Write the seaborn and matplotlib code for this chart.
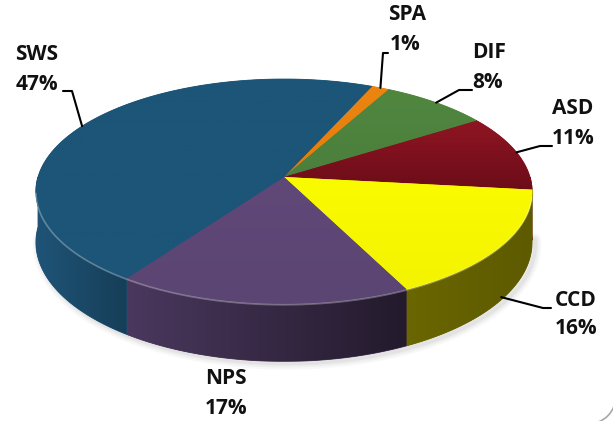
import numpy as np
import matplotlib
matplotlib.use('Agg')
import matplotlib.pyplot as plt
import seaborn as sns
from matplotlib.patches import Polygon, Arc
from matplotlib.colors import to_rgb

# datos del gráfico (orden horario desde arriba)
categories = ['SPA', 'DIF', 'ASD', 'CCD', 'NPS', 'SWS']
shares = [1.3, 8, 11, 16, 17, 47]
pct_labels = ['1%', '8%', '11%', '16%', '17%', '47%']

# colores cara superior (inicio, fin del degradado vertical) y lateral (izq, der)
top_colors = [('#ec8410', '#e47e0c'), ('#50873f', '#4b7f3d'), ('#8f1523', '#6c0c18'),
              ('#fafa00', '#f4f400'), ('#604878', '#5b4572'), ('#1c5577', '#1c5577')]
side_colors = [('#b86608', '#a85c06'), ('#3b6630', '#355b2b'), ('#5e0a12', '#4e0810'),
               ('#6a6600', '#5d5a00'), ('#4a385e', '#231a2c'), ('#1f5477', '#163e58')]

# posiciones de etiquetas: (texto nombre, texto %, codo de la guía, fin de la guía)
label_layout = {
    'SPA': ((407, 15), (405, 45), (383, 53), (388, 53)),
    'DIF': ((489, 52), (488, 82), (459, 90), (472, 90)),
    'ASD': ((573, 108), (573, 138), (540, 146), (552, 146)),
    'CCD': ((576, 300), (576, 329), (543, 308), (551, 308)),
    'NPS': ((226, 378), (226, 408), None, None),
    'SWS': ((37, 55), (37, 85), (72, 91), (63, 91)),
}

# geometría del pastel 3D (perspectiva)
CX, CY = 284, 177
A, B, K, H = 246, 110.6, 0.129, 50
START = 23.6


def proj(theta, depth=0.0):
    t = np.radians(theta)
    X, Y = np.sin(t), -np.cos(t)
    d = 1 - K * Y
    return CX + A * X / d, CY + B * Y / d + H * depth / d


def grad_fill(ax, verts, c1, c2, vertical=True, z=2):
    verts = np.asarray(verts)
    poly = Polygon(verts, closed=True, facecolor=c1, edgecolor=c1, lw=0.6, zorder=z)
    ax.add_patch(poly)
    n = 256
    t = np.linspace(0, 1, n)
    c1, c2 = np.array(to_rgb(c1)), np.array(to_rgb(c2))
    g = c1[None, :] * (1 - t[:, None]) + c2[None, :] * t[:, None]
    img = g[:, None, :] if vertical else g[None, :, :]
    x0, y0 = verts.min(axis=0)
    x1, y1 = verts.max(axis=0)
    im = ax.imshow(img, extent=(x0, x1, y1, y0), origin='upper', aspect='auto',
                   interpolation='bilinear', zorder=z + 0.1)
    im.set_clip_path(poly)


sns.set_theme(style='white')
plt.rcParams['font.family'] = ['Open Sans', 'DejaVu Sans']

fig = plt.figure(figsize=(6.13, 4.21), dpi=100)
ax = fig.add_axes([0, 0, 1, 1])
ax.set_xlim(0, 613)
ax.set_ylim(421, 0)
ax.axis('off')

bounds = np.cumsum([0] + shares) / sum(shares) * 360 + START

# sombra suave
th = np.linspace(95, 265, 200)
sx, sy = proj(th, 1.0)
for w, a in [(9, 0.05), (6, 0.07), (3, 0.1)]:
    ax.plot(sx + 3, sy + 2, color='#808080', lw=w, alpha=a, zorder=0.5,
            solid_capstyle='round')

# paredes laterales visibles
for i, cat in enumerate(categories):
    lo, hi = max(bounds[i], 90), min(bounds[i + 1], 270)
    if hi <= lo:
        continue
    th = np.linspace(lo, hi, 120)
    tx, ty = proj(th, 0)
    bx, by = proj(th, 1.0)
    verts = np.column_stack([np.r_[tx, bx[::-1]], np.r_[ty, by[::-1]]])
    grad_fill(ax, verts, side_colors[i][0], side_colors[i][1], vertical=False, z=1)

# caras superiores
for i, cat in enumerate(categories):
    th = np.linspace(bounds[i], bounds[i + 1], 200)
    rx, ry = proj(th, 0)
    verts = np.column_stack([np.r_[CX, rx], np.r_[CY, ry]])
    grad_fill(ax, verts, top_colors[i][0], top_colors[i][1], vertical=True, z=3)

# brillo del borde frontal
th = np.linspace(100, 262, 200)
hx, hy = proj(th, 0)
ax.plot(hx, hy + 0.8, color='white', lw=1.2, alpha=0.3, zorder=4)

# etiquetas y líneas guía
for i, cat in enumerate(categories):
    name_pos, pct_pos, elbow, end = label_layout[cat]
    mid = (bounds[i] + bounds[i + 1]) / 2
    if elbow is not None:
        depth = 0.95 if cat == 'CCD' else 0.0
        axx, ayy = proj(mid, depth)
        ax.plot([axx, elbow[0], end[0]], [ayy, elbow[1], end[1]],
                color='black', lw=1.5, zorder=5)
    ax.text(*name_pos, cat, ha='center', va='center', fontsize=15,
            fontweight='bold', color='#111111', zorder=6)
    ax.text(*pct_pos, pct_labels[i], ha='center', va='center', fontsize=15,
            fontweight='bold', color='#111111', zorder=6)

# esquina del marco
ax.add_patch(Arc((588, 396), 56, 56, theta1=0, theta2=90, color='#a8a8a8', lw=1.2))

fig.savefig('out.png', dpi=100)
